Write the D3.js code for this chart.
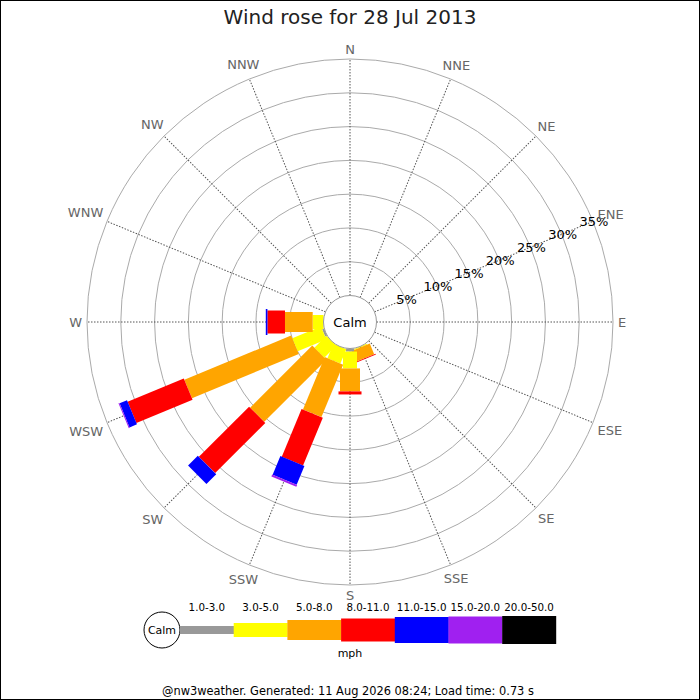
<!DOCTYPE html>
<html>
<head>
<meta charset="utf-8">
<script src="https://cdn.jsdelivr.net/npm/d3@7"></script>
<style>
  html, body { margin: 0; padding: 0; background: #fff; }
  svg { display: block; font-family: "DejaVu Sans", sans-serif; }
</style>
</head>
<body>
<div id="chart"></div>
<script>
const WIDTH = 700;
const HEIGHT = 700;
const CENTER = { x: 350, y: 322 };
const CALM_R = 26.5;
const OUTER_R = 263;

const directions = ["N", "NNE", "NE", "ENE", "E", "ESE", "SE", "SSE",
  "S", "SSW", "SW", "WSW", "W", "WNW", "NW", "NNW"];

const speedBands = ["1.0-3.0", "3.0-5.0", "5.0-8.0", "8.0-11.0",
  "11.0-15.0", "15.0-20.0", "20.0-50.0"];
const bandColors = ["#999999", "#ffff00", "#ffa500", "#ff0000",
  "#0000ff", "#a020f0", "#000000"];
const bandWidths = [8, 14, 20, 23, 26, 27, 28];

const percentTicks = [5, 10, 15, 20, 25, 30, 35];

// % of time per direction, split by speed band (same order as speedBands)
const freqS   = [0.45, 2.5, 3.4, 0.45, 0, 0, 0];
const freqSSE = [0, 0.15, 1.7, 0.15, 0, 0, 0];
const freqSSW = [0, 2.3, 8.4, 7.65, 3.0, 0.3, 0];
const freqSW  = [0, 2.5, 13.0, 10.5, 2.05, 0, 0];
const freqWSW = [0.3, 4.6, 17.1, 9.0, 1.19, 0.15, 0];
const freqW   = [0, 1.6, 4.1, 2.6, 0.24, 0, 0];

const dirFreq = {
  SSE: freqSSE, S: freqS, SSW: freqSSW, SW: freqSW, WSW: freqWSW, W: freqW,
};

const svg = d3.select("#chart")
  .append("svg")
  .attr("width", WIDTH)
  .attr("height", HEIGHT);

svg.append("rect")
  .attr("x", 0).attr("y", 0)
  .attr("width", WIDTH).attr("height", HEIGHT)
  .attr("fill", "#fff");

svg.append("rect")
  .attr("x", 0.5).attr("y", 0.5)
  .attr("width", WIDTH - 1).attr("height", HEIGHT - 1)
  .attr("fill", "none")
  .attr("stroke", "#000");

svg.append("text")
  .attr("x", WIDTH / 2)
  .attr("y", 24)
  .attr("text-anchor", "middle")
  .attr("font-size", 20)
  .attr("fill", "#222")
  .text("Wind rose for 28 Jul 2013");

const r = d3.scaleLinear().domain([0, 35]).range([CALM_R, OUTER_R]);
const dirAngle = (d) => directions.indexOf(d) * 360 / directions.length;

const g = svg.append("g")
  .attr("transform", `translate(${CENTER.x},${CENTER.y})`);

// —— Rings ——
g.selectAll(".ring")
  .data(percentTicks)
  .join("circle")
  .attr("class", "ring")
  .attr("r", (d) => r(d))
  .attr("fill", "none")
  .attr("stroke", "#aaa")
  .attr("stroke-width", 1);

// —— Spokes ——
g.selectAll(".spoke")
  .data(directions)
  .join("line")
  .attr("class", "spoke")
  .attr("transform", (d) => `rotate(${dirAngle(d)})`)
  .attr("x1", 0).attr("x2", 0)
  .attr("y1", -r(0)).attr("y2", -r(35))
  .attr("stroke", "#555")
  .attr("stroke-width", 1)
  .attr("stroke-dasharray", "1.5,1.5");

// —— Bars (stacked outward, one rect per speed band) ——
const segments = [];
for (const dir of directions) {
  const vals = dirFreq[dir];
  if (!vals) continue;
  let cum = 0;
  vals.forEach((v, i) => {
    if (v > 0) segments.push({ dir, band: i, start: cum, end: cum + v });
    cum += v;
  });
}

g.selectAll(".bar")
  .data(segments)
  .join("rect")
  .attr("class", "bar")
  .attr("transform", (d) => `rotate(${dirAngle(d.dir)})`)
  .attr("x", (d) => -bandWidths[d.band] / 2)
  .attr("width", (d) => bandWidths[d.band])
  .attr("y", (d) => -r(d.end))
  .attr("height", (d) => r(d.end) - r(d.start))
  .attr("fill", (d) => bandColors[d.band]);

// —— Calm circle ——
g.append("circle")
  .attr("r", CALM_R)
  .attr("fill", "#fff")
  .attr("stroke", "#999")
  .attr("stroke-width", 1);

g.append("text")
  .attr("y", 5)
  .attr("text-anchor", "middle")
  .attr("font-size", 13)
  .attr("fill", "#000")
  .text("Calm");

// —— Percent labels along ENE ——
const labelRad = dirAngle("ENE") * Math.PI / 180;
g.selectAll(".pct")
  .data(percentTicks)
  .join("text")
  .attr("class", "pct")
  .attr("x", (d) => Math.sin(labelRad) * (r(d) + 1))
  .attr("y", (d) => -Math.cos(labelRad) * (r(d) + 1) + 5)
  .attr("text-anchor", "middle")
  .attr("font-size", 13)
  .attr("fill", "#000")
  .text((d) => `${d}%`);

// —— Compass labels ——
const compass = g.selectAll(".compass")
  .data(directions)
  .join("text")
  .attr("class", "compass")
  .attr("text-anchor", "middle")
  .attr("font-size", 13)
  .attr("fill", "#666")
  .text((d) => d);

compass.each(function (d) {
  const a = dirAngle(d) * Math.PI / 180;
  const halfW = this.getComputedTextLength() / 2;
  const halfH = 5;
  const rr = OUTER_R + 5 + Math.abs(Math.sin(a)) * halfW + Math.abs(Math.cos(a)) * halfH;
  d3.select(this)
    .attr("x", Math.sin(a) * rr)
    .attr("y", -Math.cos(a) * rr + 5);
});

// —— Legend ——
const legend = svg.append("g").attr("transform", "translate(0,630)");
const segW = 53.7;
const legendX0 = 180;

legend.append("circle")
  .attr("cx", 162)
  .attr("r", 18)
  .attr("fill", "#fff")
  .attr("stroke", "#000");

legend.append("text")
  .attr("x", 162)
  .attr("y", 4)
  .attr("text-anchor", "middle")
  .attr("font-size", 11)
  .text("Calm");

legend.selectAll(".leg-rect")
  .data(speedBands)
  .join("rect")
  .attr("class", "leg-rect")
  .attr("x", (d, i) => legendX0 + i * segW)
  .attr("width", segW + 0.3)
  .attr("y", (d, i) => -bandWidths[i] / 2)
  .attr("height", (d, i) => bandWidths[i])
  .attr("fill", (d, i) => bandColors[i]);

legend.selectAll(".leg-label")
  .data(speedBands)
  .join("text")
  .attr("class", "leg-label")
  .attr("x", (d, i) => legendX0 + (i + 0.5) * segW)
  .attr("y", -19)
  .attr("text-anchor", "middle")
  .attr("font-size", 10.3)
  .attr("fill", "#000")
  .text((d) => d);

legend.append("text")
  .attr("x", 350)
  .attr("y", 27)
  .attr("text-anchor", "middle")
  .attr("font-size", 11)
  .text("mph");

svg.append("text")
  .attr("x", 348)
  .attr("y", 695)
  .attr("text-anchor", "middle")
  .attr("font-size", 11.4)
  .attr("fill", "#000")
  .text("@nw3weather. Generated: 11 Aug 2026 08:24; Load time: 0.73 s");
</script>
</body>
</html>
